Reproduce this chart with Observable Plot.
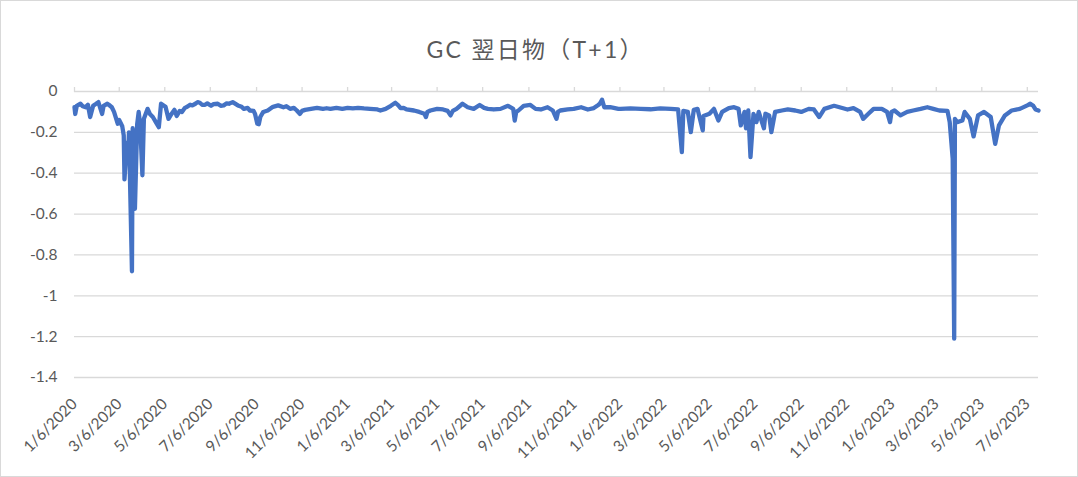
<!DOCTYPE html>
<html><head><meta charset="utf-8">
<script src="https://cdn.jsdelivr.net/npm/d3@7"></script>
<script src="https://cdn.jsdelivr.net/npm/@observablehq/plot@0.6"></script>
<style>
html,body{margin:0;padding:0;background:#fff;}
#chart{width:1078px;height:477px;position:relative;}
#chart svg{display:block;outline:1px solid #d9d9d9;outline-offset:-1px;}
</style></head><body><div id="chart"></div>
<script>
const title = "GC 翌日物（T+1）";

const dates = [
"2020-01-06","2020-01-07","2020-01-09","2020-01-14","2020-01-17","2020-01-21","2020-01-24","2020-01-27","2020-01-31",
"2020-02-04","2020-02-07","2020-02-12","2020-02-14","2020-02-19","2020-02-21","2020-02-25","2020-02-28",
"2020-03-04","2020-03-06","2020-03-10","2020-03-12","2020-03-13","2020-03-16","2020-03-18","2020-03-19","2020-03-23","2020-03-24","2020-03-26","2020-03-27","2020-03-30",
"2020-04-01","2020-04-03","2020-04-06","2020-04-08","2020-04-13","2020-04-16","2020-04-20","2020-04-24","2020-04-28",
"2020-05-01","2020-05-07","2020-05-11","2020-05-15","2020-05-19","2020-05-22","2020-05-26","2020-05-29",
"2020-06-02","2020-06-05","2020-06-09","2020-06-12","2020-06-16","2020-06-19","2020-06-22","2020-06-25","2020-06-29",
"2020-07-02","2020-07-07","2020-07-10","2020-07-16","2020-07-20","2020-07-24","2020-07-28","2020-07-31",
"2020-08-05","2020-08-12","2020-08-17","2020-08-20","2020-08-25","2020-08-28",
"2020-09-02","2020-09-04","2020-09-07","2020-09-09","2020-09-11","2020-09-15","2020-09-21","2020-09-28",
"2020-10-05","2020-10-12","2020-10-16","2020-10-21","2020-10-26","2020-10-30",
"2020-11-03","2020-11-06","2020-11-10","2020-11-18","2020-11-26",
"2020-12-04","2020-12-09","2020-12-14","2020-12-22","2020-12-30",
"2021-01-06","2021-01-13","2021-01-20","2021-01-28",
"2021-02-05","2021-02-15","2021-02-19","2021-02-26",
"2021-03-05","2021-03-09","2021-03-11","2021-03-15","2021-03-18","2021-03-22","2021-03-26",
"2021-04-05","2021-04-12","2021-04-19","2021-04-21","2021-04-23","2021-04-27",
"2021-05-06","2021-05-14","2021-05-20","2021-05-24","2021-05-27",
"2021-06-01","2021-06-09","2021-06-16","2021-06-24",
"2021-07-02","2021-07-08","2021-07-13","2021-07-21","2021-07-30",
"2021-08-09","2021-08-16","2021-08-18","2021-08-20","2021-08-23","2021-08-30",
"2021-09-08","2021-09-15","2021-09-22",
"2021-10-01","2021-10-08","2021-10-13","2021-10-15","2021-10-18","2021-10-28",
"2021-11-05","2021-11-15","2021-11-24",
"2021-12-02","2021-12-08","2021-12-10","2021-12-13","2021-12-16","2021-12-24",
"2022-01-04","2022-01-07","2022-01-20","2022-02-03","2022-02-16","2022-03-01","2022-03-15","2022-03-25","2022-03-30",
"2022-04-01","2022-04-07","2022-04-11","2022-04-15","2022-04-20","2022-04-21","2022-04-27","2022-04-28",
"2022-05-06","2022-05-12","2022-05-18","2022-05-23",
"2022-06-01","2022-06-08","2022-06-14","2022-06-17","2022-06-22","2022-06-24","2022-06-27","2022-06-30",
"2022-07-04","2022-07-08","2022-07-11","2022-07-18","2022-07-20","2022-07-25","2022-07-28",
"2022-08-02","2022-08-11","2022-08-19","2022-08-29",
"2022-09-06","2022-09-16","2022-09-23","2022-09-30",
"2022-10-07","2022-10-20","2022-10-31",
"2022-11-07","2022-11-15","2022-11-24","2022-11-28",
"2022-12-05","2022-12-12","2022-12-23","2022-12-30",
"2023-01-03","2023-01-05","2023-01-09","2023-01-17","2023-01-26",
"2023-02-03","2023-02-13","2023-02-22",
"2023-03-02","2023-03-10","2023-03-21","2023-03-24","2023-03-28","2023-03-30","2023-03-31",
"2023-04-03","2023-04-10","2023-04-13","2023-04-20","2023-04-25",
"2023-05-01","2023-05-09","2023-05-18","2023-05-24","2023-05-29",
"2023-06-06","2023-06-15","2023-06-26",
"2023-07-06","2023-07-10","2023-07-14","2023-07-17","2023-07-21"
];

const values = [
-0.077,-0.11,-0.07,-0.06,-0.072,-0.077,-0.065,-0.125,-0.07,
-0.06,-0.052,-0.11,-0.07,-0.06,-0.065,-0.077,-0.10,
-0.158,-0.14,-0.17,-0.215,-0.43,-0.25,-0.29,-0.20,-0.88,-0.18,-0.45,-0.574,-0.16,
-0.10,-0.16,-0.41,-0.134,-0.085,-0.11,-0.125,-0.15,-0.175,
-0.06,-0.075,-0.134,-0.11,-0.09,-0.12,-0.095,-0.10,
-0.08,-0.075,-0.065,-0.068,-0.06,-0.052,-0.055,-0.065,-0.065,
-0.058,-0.07,-0.062,-0.06,-0.07,-0.068,-0.058,-0.06,
-0.052,-0.068,-0.075,-0.085,-0.08,-0.093,
-0.095,-0.11,-0.158,-0.16,-0.125,-0.10,-0.093,-0.075,
-0.068,-0.077,-0.072,-0.085,-0.08,-0.093,
-0.11,-0.095,-0.09,-0.085,-0.08,
-0.085,-0.082,-0.085,-0.08,-0.085,
-0.08,-0.083,-0.08,-0.083,
-0.085,-0.088,-0.093,-0.085,
-0.07,-0.06,-0.055,-0.068,-0.081,-0.08,-0.088,
-0.093,-0.10,-0.109,-0.125,-0.10,-0.093,
-0.085,-0.088,-0.095,-0.117,-0.095,
-0.085,-0.06,-0.077,-0.085,
-0.066,-0.08,-0.085,-0.088,-0.085,
-0.07,-0.085,-0.142,-0.10,-0.093,-0.07,
-0.066,-0.085,-0.088,
-0.077,-0.093,-0.134,-0.10,-0.093,-0.088,
-0.085,-0.077,-0.088,
-0.081,-0.066,-0.06,-0.04,-0.077,-0.077,
-0.085,-0.085,-0.083,-0.085,-0.087,-0.083,-0.085,-0.088,-0.297,
-0.095,-0.10,-0.199,-0.09,-0.085,-0.10,-0.19,-0.12,
-0.109,-0.085,-0.142,-0.10,
-0.081,-0.077,-0.085,-0.166,-0.10,-0.18,-0.093,-0.321,
-0.11,-0.15,-0.10,-0.18,-0.109,-0.117,-0.199,
-0.10,-0.093,-0.088,-0.093,
-0.10,-0.085,-0.088,-0.125,
-0.085,-0.07,-0.081,
-0.088,-0.081,-0.10,-0.134,
-0.109,-0.085,-0.085,-0.10,
-0.15,-0.10,-0.093,-0.117,-0.10,
-0.093,-0.085,-0.077,
-0.085,-0.093,-0.095,-0.15,-0.33,-1.21,-0.134,
-0.15,-0.142,-0.10,-0.134,-0.22,
-0.117,-0.10,-0.125,-0.256,-0.166,
-0.117,-0.093,-0.085,
-0.068,-0.06,-0.07,-0.088,-0.093
];

const xTickLabels = [
"1/6/2020","3/6/2020","5/6/2020","7/6/2020","9/6/2020","11/6/2020",
"1/6/2021","3/6/2021","5/6/2021","7/6/2021","9/6/2021","11/6/2021",
"1/6/2022","3/6/2022","5/6/2022","7/6/2022","9/6/2022","11/6/2022",
"1/6/2023","3/6/2023","5/6/2023","7/6/2023"
];
const yTicks = [0, -0.2, -0.4, -0.6, -0.8, -1, -1.2, -1.4];
const xDomain = ["2020-01-06", "2023-07-21"];

const parseIso = d3.utcParse("%Y-%m-%d");
const parseTick = d3.utcParse("%m/%d/%Y");
const data = dates.map((d, i) => ({date: parseIso(d), value: values[i]}));
const tickDates = xTickLabels.map(parseTick);
const labelMap = new Map(tickDates.map((d, i) => [+d, xTickLabels[i]]));

const grey = "#595959";
const chart = Plot.plot({
  width: 1078,
  height: 477,
  marginLeft: 74,
  marginRight: 40,
  marginTop: 91,
  marginBottom: 100,
  style: {fontFamily: "Lato, 'Noto Sans CJK JP', sans-serif", fontSize: "15px", color: grey, background: "#fff"},
  x: {type: "utc", domain: xDomain.map(parseIso)},
  y: {domain: [-1.4, 0]},
  marks: [
    Plot.gridY(yTicks, {stroke: "#d9d9d9", strokeOpacity: 1, strokeWidth: 1.3}),
    Plot.axisY({ticks: yTicks, tickSize: 0, tickPadding: 17, label: null,
      tickFormat: d => d === 0 ? "0" : String(d), fill: grey, fontSize: 15.5}),
    Plot.axisX({anchor: "top", ticks: tickDates, tickSize: 5, tickFormat: () => "", label: null,
      stroke: "#d9d9d9", strokeWidth: 1.3, strokeOpacity: 1}),
    Plot.axisX({anchor: "bottom", ticks: tickDates, tickSize: 0, tickPadding: 24, tickRotate: -45,
      tickFormat: d => labelMap.get(+d), label: null, fill: grey, fontSize: 15.5}),
    Plot.lineY(data, {x: "date", y: "value", stroke: "#4472C4", strokeWidth: 4.3,
      strokeLinejoin: "round", strokeLinecap: "round"}),
    Plot.text([title], {frameAnchor: "top", text: d => d, dy: -50, dx: -22, fontSize: 23,
      fill: grey, fontFamily: "Lato, 'Noto Sans CJK JP', sans-serif"})
  ]
});
document.getElementById("chart").appendChild(chart);
d3.select(chart).selectAll("text").filter(function() { return this.textContent === title; })
  .attr("textLength", 216).attr("lengthAdjust", "spacing");
</script>
</body></html>
